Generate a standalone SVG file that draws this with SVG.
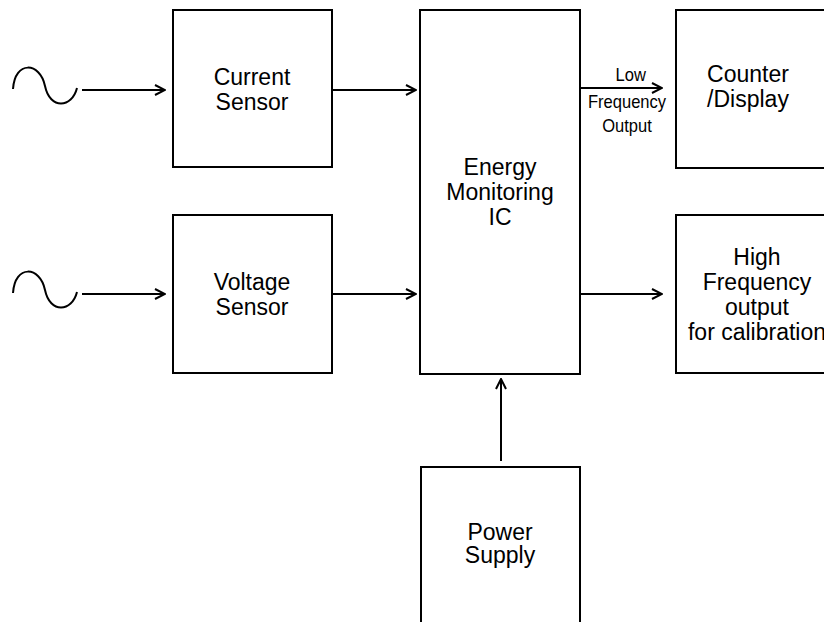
<svg xmlns="http://www.w3.org/2000/svg" width="824" height="622" viewBox="0 0 824 622">
<defs>
<style>
.box{fill:#fff;stroke:#000;stroke-width:2}
.ln{fill:none;stroke:#000;stroke-width:2}
.t{font-family:"Liberation Sans",Arial,sans-serif;font-size:23px;fill:#000;text-anchor:middle}
.s{font-family:"Liberation Sans",Arial,sans-serif;font-size:18px;fill:#000;text-anchor:middle}
</style>
<marker id="ah" viewBox="0 0 12 12" refX="11" refY="6" markerWidth="12" markerHeight="12" markerUnits="userSpaceOnUse" orient="auto">
<path d="M1,1 L11,6 L1,11" fill="none" stroke="#000" stroke-width="2"/>
</marker>
</defs>
<rect width="824" height="622" fill="#fff"/>
<g id="source1"><path class="ln" d="M13,89 C15,60 40,62 45,86 C50,110 72,108 77,88"/></g>
<g id="source2"><path class="ln" d="M13,293 C15,264 40,266 45,290 C50,314 72,312 77,292"/></g>
<g id="current-sensor"><rect class="box" x="173" y="10" width="159" height="157"/>
<text class="t" x="252" y="85">Current</text><text class="t" x="252" y="110">Sensor</text></g>
<g id="voltage-sensor"><rect class="box" x="173" y="215" width="159" height="158"/>
<text class="t" x="252" y="290">Voltage</text><text class="t" x="252" y="315">Sensor</text></g>
<g id="energy-ic"><rect class="box" x="420" y="10" width="160" height="364"/>
<text class="t" x="500" y="175">Energy</text><text class="t" x="500" y="200">Monitoring</text><text class="t" x="500" y="225">IC</text></g>
<g id="counter-display"><rect class="box" x="676" y="10" width="170" height="158"/>
<text class="t" x="748" y="82">Counter</text><text class="t" x="748" y="107">/Display</text></g>
<g id="hf-output"><rect class="box" x="676" y="215" width="170" height="158"/>
<text class="t" x="757" y="265">High</text><text class="t" x="757" y="290">Frequency</text><text class="t" x="757" y="315">output</text><text class="t" x="757" y="340">for calibration</text></g>
<g id="power-supply"><rect class="box" x="421" y="467" width="159" height="170"/>
<text class="t" x="500" y="540">Power</text><text class="t" x="500" y="563">Supply</text></g>
<g id="connectors">
<line class="ln" x1="82" y1="90" x2="165" y2="90" marker-end="url(#ah)"/>
<line class="ln" x1="82" y1="294" x2="165" y2="294" marker-end="url(#ah)"/>
<line class="ln" x1="333" y1="90" x2="416" y2="90" marker-end="url(#ah)"/>
<line class="ln" x1="333" y1="294" x2="416" y2="294" marker-end="url(#ah)"/>
<line class="ln" x1="581" y1="88" x2="662" y2="88" marker-end="url(#ah)"/>
<line class="ln" x1="581" y1="294" x2="662" y2="294" marker-end="url(#ah)"/>
<line class="ln" x1="501" y1="461" x2="501" y2="379" marker-end="url(#ah)"/>
<g transform="translate(627,0) scale(0.92,1)">
<text class="s" x="4" y="81">Low</text>
<text class="s" x="0" y="108">Frequency</text>
<text class="s" x="0" y="132">Output</text>
</g>
</g>
</svg>
